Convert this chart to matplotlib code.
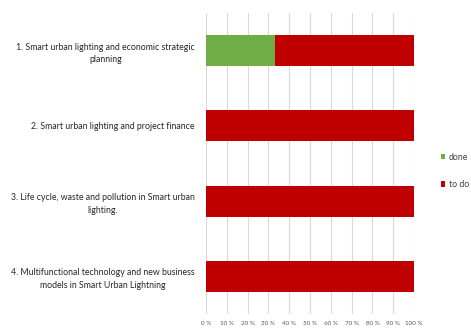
import matplotlib
matplotlib.use("Agg")
import matplotlib.pyplot as plt
import numpy as np

# share of each work package already covered
categories = [
    "1. Smart urban lighting and economic strategic\nplanning",
    "2. Smart urban lighting and project finance",
    "3. Life cycle, waste and pollution in Smart urban\nlighting.",
    "4. Multifunctional technology and new business\nmodels in Smart Urban Lightning",
]
done = [33, 0, 0, 0]
to_do = [67, 100, 100, 100]
x_ticks = list(range(0, 101, 10))

plt.rcParams['font.family'] = ['Lato', 'DejaVu Sans']

fig = plt.figure(figsize=(4.71, 3.28), dpi=100, facecolor="white")
ax = fig.add_axes([206/471, 1-314/328, 208/471, 301/328])

y = np.arange(len(categories))
ax.barh(y, done, height=0.41, color="#70AD47", label="done", zorder=3)
ax.barh(y, to_do, left=done, height=0.41, color="#C00000", label="to do", zorder=3)

ax.set_xlim(0, 100)
ax.set_ylim(len(categories) - 0.5, -0.5)
ax.set_xticks(x_ticks)
ax.set_xticklabels([f"{t} %" for t in x_ticks], fontsize=4.5, color="#595959")
ax.set_yticks(y)
ax.set_yticklabels(categories, fontsize=6.3, color="#262626", multialignment="center",
                   linespacing=1.5)
ax.tick_params(length=0)
ax.tick_params(axis="y", pad=8)
ax.tick_params(axis="x", pad=5)

ax.grid(axis="x", color="#D9D9D9", linewidth=0.8, zorder=0)
for s in ax.spines.values():
    s.set_visible(False)

ax.legend(loc="center left", bbox_to_anchor=(1.09, 0.475), frameon=False,
          fontsize=6.3, handlelength=0.55, handleheight=0.55,
          labelspacing=2.1, handletextpad=0.4, labelcolor="#404040")

fig.savefig("out.png", dpi=100)
